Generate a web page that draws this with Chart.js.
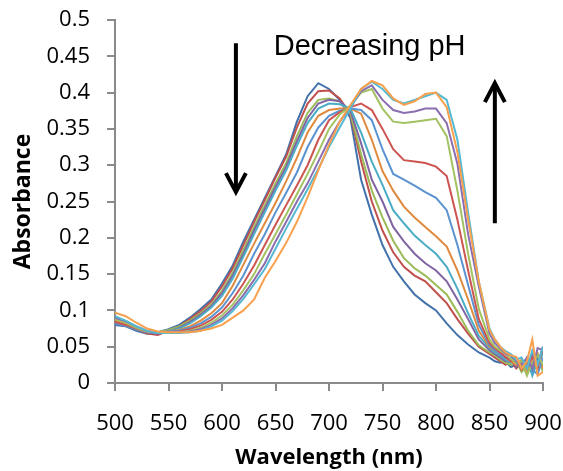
<!DOCTYPE html>
<html>
<head>
<meta charset="utf-8">
<script src="https://cdn.jsdelivr.net/npm/chart.js@4.4.1/dist/chart.umd.min.js"></script>
<style>
  html, body { margin: 0; padding: 0; background: #fff; }
  #wrap { width: 563px; height: 471px; }
</style>
</head>
<body>
<div id="wrap"><canvas id="myChart" width="563" height="471"></canvas></div>
<script>

// wavelength (nm)
var wavelengths = [500,510,520,530,540,550,560,570,580,590,600,610,620,630,640,650,660,670,680,690,700,710,720,730,740,750,760,770,780,790,800,810,820,830,840,850,855,860,865,870,875,880,885,890,895,900];

// absorbance spectra, highest pH first
var spec01 = [0.080,0.078,0.072,0.068,0.070,0.074,0.080,0.090,0.102,0.115,0.137,0.162,0.195,0.225,0.255,0.285,0.315,0.360,0.395,0.413,0.405,0.390,0.365,0.280,0.232,0.190,0.160,0.140,0.122,0.110,0.100,0.082,0.066,0.053,0.042,0.035,0.030,0.028,0.030,0.022,0.025,0.020,0.030,0.015,0.035,0.020];
var spec02 = [0.085,0.080,0.074,0.068,0.066,0.072,0.078,0.088,0.099,0.112,0.133,0.158,0.190,0.222,0.252,0.283,0.312,0.352,0.385,0.402,0.403,0.392,0.370,0.305,0.250,0.210,0.180,0.160,0.148,0.140,0.125,0.110,0.088,0.068,0.050,0.040,0.035,0.030,0.025,0.030,0.020,0.028,0.012,0.030,0.020,0.045];
var spec03 = [0.083,0.079,0.074,0.070,0.070,0.073,0.078,0.086,0.096,0.108,0.127,0.152,0.183,0.215,0.245,0.275,0.303,0.340,0.372,0.390,0.392,0.388,0.372,0.315,0.265,0.228,0.196,0.172,0.158,0.148,0.135,0.122,0.098,0.072,0.052,0.042,0.038,0.032,0.028,0.025,0.030,0.015,0.025,0.020,0.040,0.015];
var spec04 = [0.088,0.082,0.075,0.070,0.068,0.071,0.076,0.084,0.094,0.106,0.124,0.148,0.178,0.210,0.240,0.270,0.298,0.333,0.365,0.385,0.390,0.388,0.375,0.330,0.280,0.250,0.215,0.195,0.178,0.165,0.155,0.140,0.115,0.088,0.060,0.045,0.040,0.035,0.030,0.032,0.022,0.030,0.018,0.040,0.025,0.050];
var spec05 = [0.090,0.083,0.076,0.071,0.069,0.071,0.075,0.082,0.092,0.104,0.120,0.144,0.174,0.205,0.235,0.265,0.293,0.327,0.358,0.378,0.385,0.384,0.378,0.345,0.305,0.273,0.238,0.220,0.203,0.190,0.178,0.160,0.130,0.096,0.065,0.048,0.042,0.038,0.032,0.028,0.035,0.020,0.035,0.010,0.030,0.040];
var spec06 = [0.086,0.082,0.075,0.071,0.070,0.071,0.073,0.078,0.086,0.096,0.110,0.134,0.163,0.192,0.220,0.248,0.278,0.310,0.345,0.368,0.376,0.378,0.378,0.371,0.335,0.292,0.265,0.243,0.228,0.215,0.202,0.188,0.155,0.115,0.072,0.050,0.045,0.040,0.035,0.030,0.025,0.032,0.015,0.030,0.040,0.020];
var spec07 = [0.082,0.079,0.074,0.070,0.070,0.071,0.072,0.076,0.082,0.091,0.104,0.124,0.148,0.178,0.205,0.235,0.262,0.290,0.325,0.352,0.368,0.375,0.378,0.376,0.362,0.322,0.288,0.280,0.272,0.263,0.255,0.238,0.190,0.135,0.080,0.052,0.045,0.040,0.034,0.035,0.028,0.022,0.030,0.018,0.012,0.035];
var spec08 = [0.084,0.080,0.075,0.071,0.070,0.070,0.071,0.074,0.079,0.087,0.098,0.115,0.137,0.162,0.190,0.218,0.245,0.272,0.300,0.335,0.362,0.373,0.380,0.385,0.376,0.350,0.322,0.307,0.305,0.303,0.298,0.285,0.225,0.155,0.088,0.055,0.048,0.042,0.036,0.030,0.034,0.018,0.025,0.035,0.022,0.050];
var spec09 = [0.088,0.083,0.076,0.071,0.070,0.070,0.070,0.072,0.076,0.083,0.093,0.108,0.128,0.150,0.178,0.205,0.232,0.260,0.288,0.318,0.350,0.370,0.382,0.400,0.405,0.378,0.360,0.358,0.360,0.362,0.364,0.340,0.265,0.178,0.102,0.060,0.050,0.045,0.040,0.033,0.028,0.030,0.010,0.028,0.038,0.025];
var spec10 = [0.090,0.085,0.078,0.072,0.070,0.070,0.070,0.071,0.074,0.080,0.089,0.103,0.121,0.142,0.165,0.195,0.222,0.250,0.275,0.305,0.335,0.360,0.380,0.402,0.410,0.390,0.376,0.372,0.374,0.378,0.378,0.358,0.302,0.205,0.133,0.068,0.055,0.048,0.040,0.038,0.030,0.025,0.035,0.020,0.048,0.045];
var spec11 = [0.092,0.086,0.078,0.072,0.069,0.069,0.069,0.070,0.072,0.078,0.086,0.099,0.116,0.136,0.157,0.185,0.213,0.240,0.267,0.295,0.325,0.352,0.378,0.405,0.415,0.405,0.390,0.385,0.390,0.395,0.400,0.390,0.335,0.235,0.140,0.075,0.060,0.050,0.044,0.040,0.032,0.035,0.020,0.045,0.025,0.050];
var spec12 = [0.097,0.092,0.083,0.075,0.071,0.070,0.070,0.070,0.072,0.075,0.080,0.090,0.100,0.115,0.145,0.168,0.193,0.222,0.256,0.293,0.328,0.360,0.383,0.405,0.416,0.410,0.392,0.383,0.388,0.398,0.400,0.380,0.318,0.225,0.140,0.073,0.060,0.050,0.042,0.038,0.036,0.020,0.030,0.060,0.010,0.015];

var allSpectra = [spec01, spec02, spec03, spec04, spec05, spec06, spec07, spec08, spec09, spec10, spec11, spec12];
var lineColors = ['#4272AB', '#C0504D', '#9BBB59', '#8064A2', '#4BACC6', '#DF8A3E',
                  '#5B93D0', '#CC5552', '#A3C262', '#8B6EB0', '#55B9D3', '#F9A04D'];

var xTicks = [500, 550, 600, 650, 700, 750, 800, 850, 900];

// annotation: text and the two arrows, in data units
var noteText = 'Decreasing pH';
var noteAt = { x: 738, y: 0.452 };
var arrowDown = { x: 613, from: 0.468, to: 0.263 };
var arrowUp = { x: 855, from: 0.220, to: 0.413 };

function makeDatasets() {
    var sets = [];
    for (var i = 0; i < allSpectra.length; i++) {
        var pts = [];
        for (var j = 0; j < wavelengths.length; j++) {
            pts.push({ x: wavelengths[j], y: allSpectra[i][j] });
        }
        sets.push({
            label: 'Spectrum ' + (i + 1),
            data: pts,
            borderColor: lineColors[i],
            backgroundColor: lineColors[i],
            borderWidth: 2,
            pointRadius: 0,
            fill: false,
            tension: 0,
            order: allSpectra.length - i   // later spectra on top, like the original
        });
    }
    return sets;
}

function drawArrow(ctx, x, y0, y1) {
    var dir = y1 > y0 ? 1 : -1;
    ctx.beginPath();
    ctx.moveTo(x, y0);
    ctx.lineTo(x, y1 - dir * 2);
    ctx.stroke();
    ctx.beginPath();
    ctx.moveTo(x - 10, y1 - dir * 19);
    ctx.lineTo(x, y1);
    ctx.lineTo(x + 10, y1 - dir * 19);
    ctx.stroke();
}

var notesPlugin = {
    id: 'notes',
    afterDatasetsDraw: function(chart) {
        var ctx = chart.ctx;
        var sx = chart.scales.x, sy = chart.scales.y;
        ctx.save();
        ctx.fillStyle = '#000';
        ctx.font = '29px "Liberation Sans", Arial, sans-serif';
        ctx.textAlign = 'center';
        ctx.textBaseline = 'alphabetic';
        ctx.fillText(noteText, sx.getPixelForValue(noteAt.x), sy.getPixelForValue(noteAt.y));

        ctx.strokeStyle = '#000';
        ctx.lineWidth = 4;
        ctx.lineJoin = 'miter';
        drawArrow(ctx, sx.getPixelForValue(arrowDown.x), sy.getPixelForValue(arrowDown.from), sy.getPixelForValue(arrowDown.to));
        drawArrow(ctx, sx.getPixelForValue(arrowUp.x), sy.getPixelForValue(arrowUp.from), sy.getPixelForValue(arrowUp.to));
        ctx.restore();
    }
};

var axisGrey = '#8A8A8A';
var tickFont = { family: '"Open Sans", sans-serif', size: 22 };

var ctx = document.getElementById('myChart').getContext('2d');
var chart = new Chart(ctx, {
    type: 'line',
    data: { datasets: makeDatasets() },
    plugins: [notesPlugin],
    options: {
        responsive: false,
        animation: false,
        layout: { padding: 0 },
        plugins: {
            legend: { display: false },
            tooltip: { enabled: false }
        },
        scales: {
            x: {
                type: 'linear',
                min: 500,
                max: 900,
                afterBuildTicks: function(scale) {
                    scale.ticks = xTicks.map(function(v) { return { value: v }; });
                },
                // fixed plot box: 115..543 across, 20..383 down
                afterFit: function(scale) {
                    scale.height = 88;
                    scale.paddingLeft = 0;
                    scale.paddingRight = 20;
                },
                ticks: { color: '#000', font: tickFont, padding: 20, maxRotation: 0 },
                grid: { drawOnChartArea: false, drawTicks: true, tickLength: 8, color: axisGrey, lineWidth: 2 },
                border: { color: axisGrey, width: 2 },
                title: {
                    display: true,
                    text: 'Wavelength (nm)',
                    color: '#000',
                    font: { family: '"Open Sans", sans-serif', size: 22, weight: 'bold' },
                    padding: { top: 0, bottom: 0 }
                }
            },
            y: {
                min: 0,
                max: 0.5,
                afterFit: function(scale) {
                    scale.width = 115;
                    scale.paddingTop = 20;
                    scale.paddingBottom = 0;
                },
                ticks: {
                    stepSize: 0.05,
                    color: '#000',
                    font: tickFont,
                    padding: 17,
                    callback: function(v) { return String(+v.toFixed(2)); }
                },
                grid: { drawOnChartArea: false, drawTicks: true, tickLength: 8, color: axisGrey, lineWidth: 2 },
                border: { color: axisGrey, width: 2 },
                title: {
                    display: true,
                    text: 'Absorbance',
                    color: '#000',
                    font: { family: '"Open Sans", sans-serif', size: 23, weight: 'bold' },
                    padding: { top: 10, bottom: 0 }
                }
            }
        }
    }
});
</script>
</body>
</html>
